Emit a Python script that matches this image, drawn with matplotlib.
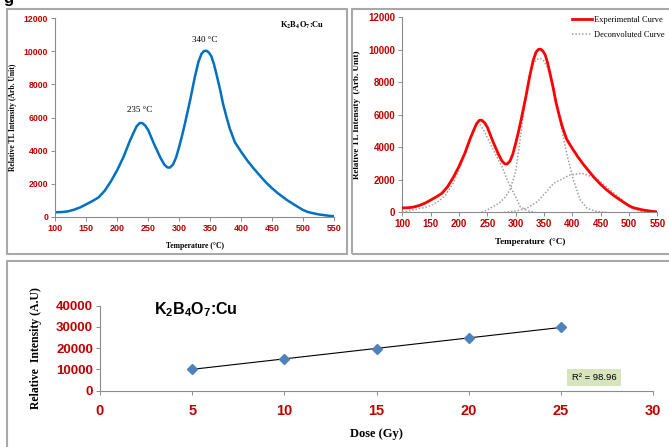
import matplotlib
matplotlib.use("Agg")
import matplotlib.pyplot as plt
import numpy as np
from matplotlib.patches import Rectangle

plt.rcParams['mathtext.fontset'] = 'custom'
plt.rcParams['mathtext.rm'] = 'Liberation Sans'
plt.rcParams['mathtext.bf'] = 'Liberation Sans:bold'

# ---------------- data ----------------
temp = [100, 110, 120, 130, 140, 150, 160, 170, 180, 190, 200, 210, 220, 226, 231,
        236, 240, 245, 250, 260, 270, 276, 281, 285, 290, 295, 300, 305, 310, 318,
        325, 331, 336, 340, 344, 348, 352, 356, 360, 366, 371, 377, 382, 390, 400,
        410, 420, 430, 440, 450, 460, 474, 487, 500, 508, 517, 525, 533, 541, 550]
tl_intensity = [270, 280, 320, 420, 560, 750, 950, 1170, 1580, 2150, 2820, 3600, 4550, 5050, 5450,
                5660, 5670, 5520, 5240, 4350, 3550, 3150, 2980, 2970, 3150, 3580, 4230, 4950, 5750, 7100,
                8400, 9350, 9850, 10020, 10040, 9930, 9700, 9250, 8650, 7700, 6800, 5950, 5300, 4500, 3930,
                3400, 2930, 2500, 2080, 1720, 1400, 1010, 700, 405, 280, 205, 140, 100, 60, 25]

peak1_temp = [100, 123, 140, 152, 165, 176, 190, 200, 210, 220, 227, 232, 237, 243, 250,
              260, 270, 276, 285, 294, 300, 308, 320, 335]
peak1_val = [0, 180, 300, 450, 700, 1050, 1800, 2600, 3600, 4600, 5200, 5400, 5380, 5100, 4600,
             3900, 3200, 2800, 2000, 1370, 950, 350, 100, 0]

peak2_temp = [240, 250, 260, 270, 280, 290, 300, 310, 320, 326, 331, 337, 343, 349, 355,
              361, 367, 378, 390, 402, 414, 426, 443, 460]
peak2_val = [0, 150, 350, 550, 860, 1370, 2500, 5000, 7700, 8600, 9100, 9400, 9480, 9350, 9000,
             8500, 7730, 5680, 3630, 1990, 760, 250, 50, 0]

peak3_temp = [280, 300, 320, 340, 367, 396, 417, 443, 467, 485, 502, 520, 540]
peak3_val = [0, 80, 245, 700, 1780, 2300, 2400, 2090, 1370, 860, 300, 50, 0]

dose = [5, 10, 15, 20, 25]
rel_intensity = [10000, 15000, 19700, 24800, 29800]

temp_ticks = [100, 150, 200, 250, 300, 350, 400, 450, 500, 550]
tl_ticks = [0, 2000, 4000, 6000, 8000, 10000, 12000]
dose_ticks = [0, 5, 10, 15, 20, 25, 30]
int_ticks = [0, 10000, 20000, 30000, 40000]

RED_TXT = '#c00000'
SPINE = '#8c8c8c'
W, H = 669, 447

fig = plt.figure(figsize=(W / 100, H / 100), dpi=100)


def fx(px):
    return px / W


def fy(py):
    return 1 - py / H


def style_axes(ax, xsize, ysize):
    for s in ['top', 'right']:
        ax.spines[s].set_visible(False)
    for s in ['left', 'bottom']:
        ax.spines[s].set_color(SPINE)
        ax.spines[s].set_linewidth(0.8)
    ax.tick_params(direction='out', length=3, width=0.7, color=SPINE,
                   labelcolor=RED_TXT, pad=2)
    for lab in ax.get_xticklabels():
        lab.set_fontfamily('Liberation Sans')
        lab.set_fontweight('bold')
        lab.set_fontsize(xsize)
    for lab in ax.get_yticklabels():
        lab.set_fontfamily('Liberation Sans')
        lab.set_fontweight('bold')
        lab.set_fontsize(ysize)


# panel borders
for (x0, y0, x1, y1) in [(7, 9, 347, 254), (352, 9, 675, 254), (7, 261, 675, 452)]:
    fig.patches.append(Rectangle((fx(x0), fy(y1)), fx(x1) - fx(x0), fy(y0) - fy(y1),
                                 transform=fig.transFigure, fill=False,
                                 edgecolor='#a8a8a8', linewidth=1.5, clip_on=False))

fig.text(fx(8), fy(-1), 'g', fontsize=12, fontweight='bold', ha='center', va='center',
         family='Liberation Sans')

# ---------------- top-left ----------------
ax1 = fig.add_axes([fx(55.3), fy(216.7), fx(334) - fx(55.3), fy(18.3) - fy(216.7)])
ax1.plot(temp, tl_intensity, color='#0070c0', lw=1.8, solid_joinstyle='round')
ax1.set_xlim(100, 550)
ax1.set_ylim(0, 12000)
ax1.set_xticks(temp_ticks)
ax1.set_yticks(tl_ticks)
style_axes(ax1, 6.5, 6.3)
ax1.set_xlabel('Temperature (°C)', family='Liberation Serif', fontweight='bold',
               fontsize=5.5, labelpad=7)
ax1.set_ylabel('Relative TL Intensity (Arb. Unit)', family='Liberation Serif',
               fontweight='bold', fontsize=5.5, labelpad=5)
ax1.text(236, 6450, '235 °C', family='Liberation Serif', fontsize=6.5, ha='center', va='center')
ax1.text(342, 10690, '340 °C', family='Liberation Serif', fontsize=6.5, ha='center', va='center')
ax1.text(463, 11600, r'K$_\mathbf{2}$B$_\mathbf{4}$O$_\mathbf{7}$:Cu', family='Liberation Serif',
         fontweight='bold', fontsize=6, ha='left', va='center', math_fontfamily='stix')

# ---------------- top-right ----------------
ax2 = fig.add_axes([fx(402.3), fy(212.3), fx(657.3) - fx(402.3), fy(17.3) - fy(212.3)])
l1, = ax2.plot(temp, tl_intensity, color='#ff0000', lw=2.0, label='Experimental Curve', zorder=3,
               solid_joinstyle='round')
l2, = ax2.plot(peak1_temp, peak1_val, color='#a0a0a0', lw=1.1, ls=(0, (1, 1.2)),
               label='Deconvoluted Curve', zorder=2)
ax2.plot(peak2_temp, peak2_val, color='#a0a0a0', lw=1.1, ls=(0, (1, 1.2)), zorder=2)
ax2.plot(peak3_temp, peak3_val, color='#a0a0a0', lw=1.1, ls=(0, (1, 1.2)), zorder=2)
ax2.set_xlim(100, 550)
ax2.set_ylim(0, 12000)
ax2.set_xticks(temp_ticks)
ax2.set_yticks(tl_ticks)
style_axes(ax2, 7, 7)
ax2.set_xlabel('Temperature  (°C)', family='Liberation Serif', fontweight='bold',
               fontsize=6.5, labelpad=6)
ax2.set_ylabel('Relative TL Intensity  (Arb. Unit)', family='Liberation Serif',
               fontweight='bold', fontsize=6.5, labelpad=5)
leg = ax2.legend(handles=[l1, l2], loc='upper left', bbox_to_anchor=(fx(572), fy(16)),
                 bbox_transform=fig.transFigure, frameon=False, borderaxespad=0, borderpad=0,
                 handlelength=2.4, handletextpad=0.25, labelspacing=0.8,
                 prop={'family': 'Liberation Serif', 'size': 6.0})

# ---------------- bottom ----------------
ax3 = fig.add_axes([fx(100), fy(390.5), fx(653) - fx(100), fy(305.7) - fy(390.5)])
coef = np.polyfit(dose, rel_intensity, 1)
fit_x = np.array([dose[0], dose[-1]])
ax3.plot(fit_x, np.polyval(coef, fit_x), color='black', lw=0.8, zorder=2)
ax3.plot(dose, rel_intensity, ls='none', marker='D', markersize=5.5, color='#4f81bd',
         markeredgecolor='#4f81bd', zorder=3)
ax3.set_xlim(0, 30)
ax3.set_ylim(0, 40000)
ax3.set_xticks(dose_ticks)
ax3.set_yticks(int_ticks)
style_axes(ax3, 10.5, 9.5)
ax3.tick_params(axis='x', pad=7)
ax3.set_xlabel('Dose (Gy)', family='Liberation Serif', fontweight='bold', fontsize=9, labelpad=7)
ax3.set_ylabel('Relative  Intensity (A.U)', family='Liberation Serif', fontweight='bold',
               fontsize=8.5, labelpad=10)
ax3.text(fx(154), fy(310), r'K$_\mathbf{2}$B$_\mathbf{4}$O$_\mathbf{7}$:Cu', transform=fig.transFigure,
         family='Liberation Sans', fontweight='bold', fontsize=11.5, ha='left', va='center')
ax3.text(26.8, 6100, 'R² = 98.96', family='Liberation Sans', fontsize=6.8, ha='center', va='center',
         bbox=dict(boxstyle='square,pad=0.45', facecolor='#d7e4bd', edgecolor='none'))

fig.savefig('out.png', dpi=100)
